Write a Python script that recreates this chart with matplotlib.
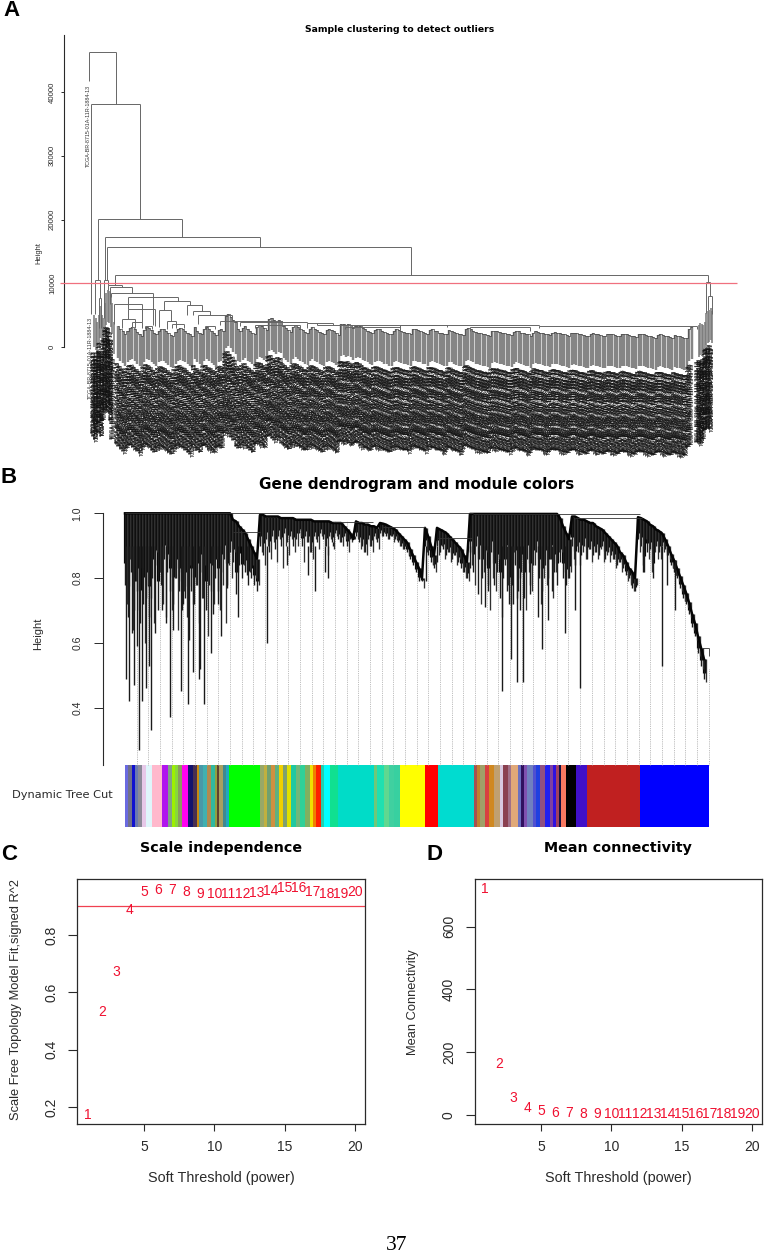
import matplotlib as mpl
import numpy as np

mpl.use("Agg")
import matplotlib.pyplot as plt

plt.rcParams["font.family"] = ["Liberation Sans", "DejaVu Sans"]

W, H = 768, 1254

# Panel A: sample tree. x is leaf position along the tree, y is Height
sample_ticks = [0, 10000, 20000, 30000, 40000]
sample_cut = 10000
merge_left = [89, 91, 97.5, 104.5, 106.5, 115, 705.5, 708, 94.5, 104, 99, 108, 110, 110.7, 128, 114, 128,
              164, 159, 167, 122, 187, 193, 198, 220, 240, 307, 317, 400, 539, 132, 145, 172, 205, 255, 345, 470]
merge_right = [115.5, 139.5, 182, 259.5, 411, 708, 709.5, 711.5, 100, 108, 101, 122, 132, 153, 178, 142, 155,
               190, 171, 176, 135, 202, 210, 232, 282, 307, 333, 539, 447, 697, 142, 152, 184, 215, 300, 400, 530]
merge_height = [46270, 38100, 20100, 17300, 15700, 11300, 10250, 8000, 10500, 10500, 7700, 9770, 9414, 8525, 7845,
                6800, 6015, 7165, 5860, 4030, 4445, 6540, 5600, 4970, 4030, 3920, 3770, 3550, 3450, 3350, 3900, 3300,
                3600, 3300, 3500, 3200, 3100]
merge_left_to = [41700, 5230, 10500, 10500, 10500, 9770, 5400, 5800, 5200, 4500, 3000, 9000, 6800, 7845, 6015,
                 3600, 4445, 5860, 3200, 2800, 3000, 5000, 4970, 3600, 3400, 3300, 3000, 3770, 3000, 3000, 3000, 2800,
                 3000, 2800, 3000, 2800, 2600]
merge_right_to = [38100, 20100, 17300, 15700, 11300, 10250, 8000, 5200, 7700, 9800, 3000, 9414, 8525, 3400, 7165,
                  3900, 3300, 6540, 4030, 3000, 3000, 5600, 4970, 4030, 3920, 3770, 3550, 3350, 3200, 2800, 3000, 2800,
                  3000, 2800, 2900, 2700, 2500]

leaf_heights = [
    3300, 2900, 2500, 2100, 2600, 3000, 3100, 2800, 2400, 2100, 1800, 2700, 3200, 3000, 2700,
    2300, 2000, 2600, 2900, 2800, 2500, 2200, 1900, 1700, 2400, 2900, 3000, 2800, 2600, 2300,
    2000, 1700, 3100, 2600, 2300, 2000, 2900, 3100, 2800, 2500, 2200, 1900, 2700, 2900, 2600,
    4900, 5200, 4800, 4300, 3900, 2900, 2600, 3000, 3300, 2900, 2600, 2300, 2000, 3200, 3500,
    3300, 3000, 2700, 4400, 4600, 4200, 3900, 4300, 4100, 3300, 3000, 2700, 2400, 3100, 3400,
    3200, 2900, 2700, 2400, 2200, 2800, 3100, 2900, 2700, 2400, 2200, 2000, 2700, 2900, 2700,
    2500, 2200, 1900, 3600, 3700, 3500, 3600, 3400, 3000, 3300, 3500, 3300, 3000, 2800, 2600,
    2400, 2200, 2700, 2900, 2800, 2600, 2400, 2300, 2100, 2000, 2600, 2800, 2700, 2500, 2400,
    2300, 2200, 2100, 2800, 2900, 2700, 2600, 2400, 2300, 2100, 2700, 2800, 2600, 2500, 2300,
    2200, 2100, 2000, 2700, 2600, 2400, 2200, 2100, 2000, 1900, 2900, 3000, 2800, 2600, 2400,
    2300, 2200, 2100, 2000, 1900, 1800, 2500, 2600, 2500, 2400, 2300, 2200, 2100, 2000, 1900,
    2400, 2600, 2500, 2300, 2200, 2100, 2000, 1800, 2300, 2500, 2400, 2300, 2200, 2100, 2000,
    1900, 2300, 2400, 2300, 2200, 2100, 2000, 1900, 1800, 2200, 2300, 2200, 2100, 2000, 1900,
    1800, 1700, 2100, 2200, 2100, 2000, 1900, 1800, 1700, 2000, 2100, 2000, 1900, 1800, 1700,
    2000, 2100, 2000, 1900, 1800, 1700, 1600, 2000, 2100, 2000, 1900, 1800, 1700, 1600, 1500,
    1900, 2000, 1900, 1800, 1700, 1600, 1500, 1900, 1800, 1700, 1600, 1500, 1400, 2800, 3100,
]
clump_x = [94, 95.5, 97, 98.5, 100, 101.5, 103, 104.5, 106, 107.5, 109, 110.5, 112, 113.5,
           698.5, 700, 701.5, 703, 704.5, 706, 707.5, 709, 710.5, 712]
clump_heights = [5000, 4500, 4000, 5000, 6500, 5000, 4500, 7000, 8500, 9000, 8800, 8200, 7000, 4000,
                 3500, 3800, 3600, 3400, 4000, 5400, 5600, 5800, 6200, 5600]
lone_x = [88.5, 90]
lone_heights = [41080, 4700]
sample_ids = ["TCGA-BR-8715-01A-11R-1884-13", "TCGA-BR-6452-01A-12R-1802-13", "TCGA-BR-7196-01A-11R-2055-13",
              "TCGA-BR-8366-01A-11R-2343-13", "TCGA-BR-4187-01A-01R-1131-13", "TCGA-BR-A4CR-01A-11R-A251-31",
              "TCGA-BR-6566-01A-11R-1884-13"]

# Panel B: gene tree, one dense column every few pixels plus the long single branches
gene_ticks = [0.4, 0.6, 0.8, 1.0]
mass_tops = [1.0] * 36 + [
    .98, .975, .96, .95, .94, .92, .90, .88, .86,
    .995, .995, .99, .99, .99, .99, .99, .985, .985, .985, .985, .985, .98, .98, .98, .98, .98, .98, .975, .975,
    .975, .975, .975, .975, .97, .97, .97, .97, .96, .95, .94, .92, .975, .97, .97, .965, .965, .96, .96, .955, .97,
    .968, .965, .96, .955, .95, .94, .93, .92, .91, .89, .87, .85, .83, .80,
    .955, .93, .90, .87,
    .955, .95, .945, .94, .93, .92, .91, .90, .89, .87, .85,
] + [.998] * 30 + [
    .985, .96, .94, .92,
    .99, .99, .985, .98, .98, .975, .97, .97, .96, .955, .95, .94, .93, .92, .91, .90, .88, .87, .85, .83, .82, .80,
    .988, .985, .98, .975, .965, .96, .95, .945,
    .938, .92, .90, .875, .855, .83, .805, .78, .755, .725, .69, .66, .62, .585, .55,
]
mass_bottoms = [
    .78, .68, .82, .70, .76, .66, .72, .74, .68, .80, .84, .70, .78, .86, .82, .76, .72, .80,
    .76, .70, .74, .68, .76, .72, .78, .82, .74, .70, .78, .84, .80, .76, .82, .86, .78, .88,
    .85, .75, .84, .80, .82, .78, .80, .78, .76,
    .90, .87, .92, .88, .93, .89, .93, .90, .94, .91, .93, .90, .92, .94, .90, .93, .91, .88, .93, .91,
    .94, .92, .90, .93, .91, .94, .92, .91, .93, .90, .92, .94, .93, .91, .90, .88, .92, .90, .93, .91, .94,
    .93, .93, .92, .93, .92, .91, .90, .89, .88, .86, .84, .82, .79, .79,
    .90, .87, .85, .83,
    .90, .88, .89, .87, .88, .86, .87, .85, .83, .82, .80,
    .88, .82, .90, .86, .80, .84, .76, .88, .78, .82, .74, .80, .86, .72, .78, .84, .76, .82, .74, .86,
    .78, .84, .88, .80, .76, .84, .80, .86, .82, .78,
    .85, .80, .78, .80,
    .90, .84, .88, .87, .90, .86, .89, .87, .88, .87, .90, .86, .88, .87, .86, .84, .85, .83, .81, .80, .77, .76,
    .92, .90, .82, .88, .89, .80, .90, .88,
    .90, .89, .87, .84, .82, .80, .77, .74, .72, .69, .65, .62, .57, .53, .49,
]
fringe_bottoms = [
    .72, .86, .64, .79, .70, .83, .60, .78, .74, .66, .88, .82, .72, .68, .86, .70, .80, .64,
    .82, .76, .68, .84, .72, .78, .66, .74, .84, .62, .76, .72, .86, .70, .78, .66, .84, .80,
    .88, .82, .90, .84, .86, .82, .84, .80, .78,
    .88, .84, .90, .86, .91, .85, .92, .83, .90, .87, .92, .88, .90, .93, .85, .91, .88, .86, .92, .89,
    .93, .90, .87, .92, .89, .93, .91, .90, .92, .88, .91, .93, .92, .89, .88, .87, .90, .88, .92, .89, .93,
    .94, .92, .93, .91, .92, .90, .89, .90, .87, .87, .85, .83, .80, .77,
    .88, .89, .84, .82,
    .87, .90, .86, .88, .85, .87, .84, .86, .82, .80, .79,
    .84, .78, .86, .72, .82, .88, .70, .80, .76, .86, .68, .84, .78, .72, .88, .74, .80, .86, .70, .82,
    .76, .84, .88, .72, .80, .78, .86, .74, .82, .88,
    .88, .82, .80, .82,
    .86, .90, .84, .88, .86, .89, .85, .88, .86, .89, .85, .87, .85, .86, .83, .85, .82, .84, .79, .78, .76, .78,
    .88, .84, .92, .86, .82, .88, .86, .86,
    .88, .87, .86, .83, .81, .79, .76, .73, .71, .68, .64, .61, .56, .52, .48,
]
spike_x = [126, 129, 131.7, 134, 136.7, 139.3, 141.7, 146, 148.7, 151, 155, 161.7, 166, 170, 173.3, 181, 183.3,
           187.7, 189, 192.7, 199, 200, 204.3, 210.7, 213.3, 218.3, 220.7, 227.3, 237.7, 246.7, 267.3, 287.3,
           307.7, 315, 325, 328, 332.7, 426, 437, 470, 478, 485, 488, 502, 507, 511, 513, 517, 520, 523, 530,
           538, 542, 548, 552, 565, 575, 580, 643, 662, 667, 675]
spike_bottoms = [.49, .42, .63, .47, .59, .27, .42, .46, .53, .33, .63, .70, .66, .37, .64, .45, .72, .41, .61,
                 .51, .49, .52, .41, .57, .69, .72, .62, .77, .68, .81, .60, .84, .81, .76, .82, .80, .91,
                 .79, .85, .83, .75, .71, .78, .45, .76, .55, .72, .48, .70, .48, .75, .68, .58, .67, .76,
                 .63, .70, .46, .82, .53, .78, .70]
guide_tops = [.99] * 9 + [.94, .88, .99, .985, .985, .98, .98, .98, .975, .975, .97, .93, .97, .94, .91, .85, .92,
                          .95, .92, .87, .99, .99, .99, .99, .99, .99, .99, .99, .94, .98, .97, .95, .90, .85, .80,
                          .97, .94, .86, .77, .65, .52]
gene_merge_left = [125, 473, 575, 383, 438, 333, 233, 701.7]
gene_merge_right = [473, 640, 642, 425, 472, 373, 260, 709]
gene_merge_height = [1.0, .997, .985, .957, .925, .974, .943, .583]

module_colors = [
    "#6a6ae0", "#70708a", "#1010d0", "#6a78b0", "#8a8a98", "#e6c8e8", "#dff6fb", "#ffb8cc", "#b014ee", "#80a088",
    "#9cf000", "#88d838", "#8a9a60", "#ff00f0", "#14146e", "#4a3050", "#c88a10", "#4898a8", "#40b0b0", "#b08a50",
    "#30b8a0", "#90a040", "#604030", "#a8a060", "#408890", "#20a8c0", "#00ff00", "#98a868", "#c0b040", "#70a070",
    "#d09040", "#60b080", "#f0d000", "#80a070", "#e0e000", "#20c8a0", "#70b878", "#30d098", "#80b060", "#f0e000",
    "#f08000", "#ff2000", "#20d0b0", "#00ffff", "#10e090", "#00dcc8", "#70c878", "#20e0b0", "#60d890", "#40d0a0",
    "#38d0a0", "#ffff00", "#ff0000", "#00dcd0", "#a85050", "#c08030", "#a0a068", "#d84040", "#d08820", "#c0a070",
    "#d8c8e0", "#8a4050", "#a07088", "#e0a878", "#6a70c0", "#301060", "#8050b0", "#7080c0", "#5050d0", "#2040e0",
    "#905080", "#2020f0", "#8040a0", "#3010e0", "#a04060", "#101040", "#f87860", "#000000", "#4010c8", "#c02020",
    "#0000ff",
]
module_widths = [
    3.3, 4, 2.3, 3.7, 3.3, 4.3, 5.7, 10, 6, 4,
    3.3, 3.3, 3.3, 6.7, 5, 4, 2, 4, 4, 3.3,
    4.3, 2.3, 2, 4, 3.3, 2.7, 31.3, 3.3, 3.3, 4.3,
    3.3, 4, 4.3, 4.3, 4, 5, 3.3, 5, 5, 3.3,
    3.3, 4.7, 2.7, 6, 8.3, 35.7, 3.3, 6.7, 5, 5,
    6, 25.7, 12.7, 35.7, 3.3, 3.3, 5, 3.3, 5.7, 5.3,
    3.3, 4.7, 3.3, 6.7, 3.3, 2.7, 3.3, 6, 3.3, 4,
    5, 5, 3.3, 2.7, 3, 2, 4.7, 10, 11, 53.3,
    69,
]

# Panels C and D: soft threshold scan
powers = list(range(1, 21))
scale_fit = [.172, .532, .672, .887, .949, .957, .957, .949, .944, .942,
             .944, .944, .945, .954, .962, .962, .95, .944, .944, .95]
mean_connectivity = [720, 163, 54, 20, 11, 5, 4, 3, 2, 1, 1, 1, 1, 1, 1, 1, 1, 1, 1, 1]
power_ticks = [5, 10, 15, 20]
fit_ticks = [0.2, 0.4, 0.6, 0.8]
connectivity_ticks = [0, 200, 400, 600]
fit_cut = 0.9

INK = "#2a2a2a"
RED = "#f01030"

fig = plt.figure(figsize=(W / 100, H / 100), dpi=100)


def panel_axes(left, top, right, bottom):
    ax = fig.add_axes([left / W, 1 - bottom / H, (right - left) / W, (bottom - top) / H])
    ax.patch.set_alpha(0)
    return ax


def put_text(x, y, text, **kwargs):
    kwargs.setdefault("ha", "center")
    kwargs.setdefault("va", "center")
    fig.text(x / W, 1 - y / H, text, **kwargs)


def tree_axis(ax, x_pos, low, high, ticks, labels, tick_len, pad, size):
    for name in ["top", "right", "bottom"]:
        ax.spines[name].set_visible(False)
    ax.spines["left"].set_position(("data", x_pos))
    ax.spines["left"].set_bounds(low, high)
    ax.spines["left"].set_color(INK)
    ax.spines["left"].set_linewidth(0.8)
    ax.set_xticks([])
    ax.set_yticks(ticks, labels)
    ax.tick_params(axis="y", length=tick_len, width=0.7, color=INK, pad=pad, labelsize=size,
                   labelcolor=INK, labelrotation=90)
    for label in ax.get_yticklabels():
        label.set_va("center")


# Panel A
ax_a = panel_axes(0, 35, W, 462)
ax_a.set_xlim(0, W)
ax_a.set_ylim(-18000, 48940)
tree_axis(ax_a, 63.5, 0, 48940, sample_ticks, [str(t) for t in sample_ticks], 2.5, 3, 5.6)

hang = 5000
label_gap = 500
leaf_x = 118 + 2.4 * np.arange(len(leaf_heights))
leaf_h = np.array(leaf_heights, dtype=float)
ax_a.vlines(leaf_x, leaf_h - hang, leaf_h, color="#858585", lw=1.75)
ax_a.step(leaf_x, leaf_h, where="mid", color="#444444", lw=0.5)
ax_a.vlines(clump_x, np.array(clump_heights) - hang, clump_heights, color="#777777", lw=1.1)

ax_a.hlines(merge_height, merge_left, merge_right, color="#666666", lw=0.7)
ax_a.vlines(merge_left, merge_left_to, merge_height, color="#666666", lw=0.7)
ax_a.vlines(merge_right, merge_right_to, merge_height, color="#666666", lw=0.7)
ax_a.hlines(sample_cut, 60, 737, color="#f0707f", lw=0.9, zorder=5)

# about three labels per drawn leaf, the real tree has twice as many samples as it shows room for
all_x = list(leaf_x) + clump_x
all_tops = list(leaf_h - hang - label_gap) + list(np.array(clump_heights) - hang - label_gap)
for i, (x, y) in enumerate(zip(all_x, all_tops)):
    for j, shift in enumerate((0, 0.8, 1.6)):
        ax_a.text(x + shift - 0.8, y, sample_ids[(i + j) % len(sample_ids)], rotation=90, ha="center", va="top",
                  fontsize=3.9, color="#111111", clip_on=False)
for x, y in zip(lone_x, lone_heights):
    ax_a.text(x, y, sample_ids[0], rotation=90, ha="center", va="top", fontsize=3.9, color="#333333")

put_text(39, 253, "Height", rotation=90, fontsize=5.4, color=INK)
put_text(400, 30, "Sample clustering to detect outliers", fontsize=6.7, fontweight="bold", family="DejaVu Sans")

# Panel B
ax_b = panel_axes(0, 505, W, 830)
ax_b.set_xlim(0, W)
ax_b.set_ylim(0.0225, 1.0256)
tree_axis(ax_b, 102.5, 0.2233, 1.0, gene_ticks, [f"{t:.1f}" for t in gene_ticks], 6.5, 8, 7.6)

guide_x = 136.7 + 11.67 * np.arange(len(guide_tops))
ax_b.vlines(guide_x, 0.2233, guide_tops, color="#a8a8a8", lw=0.6, linestyles=(0, (1, 1.2)))

mass_x = 125 + 3 * np.arange(len(mass_tops))
tops = np.array(mass_tops)
bottoms = np.array(mass_bottoms)
ax_b.vlines(mass_x, tops - 0.7 * (tops - bottoms), tops, color="#050505", lw=2.3)
ax_b.vlines(mass_x, bottoms, tops, color="#1a1a1a", lw=1.0)
ax_b.vlines(mass_x + 1.5, fringe_bottoms, tops, color="#303030", lw=0.95)
ax_b.plot(mass_x, tops, color="#050505", lw=1.8)

spike_tops = [min(0.9, mass_tops[int((x - 125) / 3)]) for x in spike_x]
ax_b.vlines(spike_x, spike_bottoms, spike_tops, color="#1a1a1a", lw=1.0)
ax_b.hlines(gene_merge_height, gene_merge_left, gene_merge_right, color="#333333", lw=0.6)
ax_b.vlines(709, 0.56, 0.583, color="#333333", lw=0.6)

module_left = 125 + np.concatenate([[0], np.cumsum(module_widths)[:-1]])
ax_b.bar(module_left, 0.1915, width=module_widths, bottom=0.0318, align="edge", color=module_colors, linewidth=0)

put_text(38, 634, "Height", rotation=90, fontsize=8, color=INK)
put_text(62, 795, "Dynamic Tree Cut", fontsize=8.2, color=INK, family="DejaVu Sans")
put_text(417, 485, "Gene dendrogram and module colors", fontsize=10.9, fontweight="bold", family="DejaVu Sans")


def scan_axes(box, values, ylim, yticks, ylabels):
    ax = panel_axes(*box)
    ax.set_xlim(0.25, 20.75)
    ax.set_ylim(*ylim)
    for spine in ax.spines.values():
        spine.set_color(INK)
        spine.set_linewidth(0.9)
    ax.set_xticks(power_ticks)
    ax.set_yticks(yticks, ylabels)
    ax.tick_params(axis="x", length=4.7, width=0.8, color=INK, pad=7, labelsize=10, labelcolor=INK)
    ax.tick_params(axis="y", length=6.5, width=0.8, color=INK, pad=7, labelsize=10, labelcolor=INK,
                   labelrotation=90)
    for label in ax.get_yticklabels():
        label.set_va("center")
    for p, v in zip(powers, values):
        ax.text(p, v, str(p), color=RED, fontsize=10, ha="center", va="center")
    return ax


# Panel C
ax_c = scan_axes((77.3, 879, 365.3, 1123.7), scale_fit, (0.142, 0.995), fit_ticks, [f"{t:.1f}" for t in fit_ticks])
ax_c.axhline(fit_cut, color="#f04050", lw=0.9)
put_text(16, 1000, "Scale Free Topology Model Fit,signed R^2", rotation=90, fontsize=9.3, color=INK)
put_text(221, 1178, "Soft Threshold (power)", fontsize=10.4, color=INK)
put_text(221, 848, "Scale independence", fontsize=10.3, fontweight="bold", family="DejaVu Sans")

# Panel D
ax_d = scan_axes((474.7, 879.3, 762.3, 1123.7), mean_connectivity, (-28.7, 751), connectivity_ticks,
                 [str(t) for t in connectivity_ticks])
put_text(413, 1002, "Mean Connectivity", rotation=90, fontsize=9.3, color=INK)
put_text(618, 1178, "Soft Threshold (power)", fontsize=10.4, color=INK)
put_text(618, 848, "Mean connectivity", fontsize=10.3, fontweight="bold", family="DejaVu Sans")

# Panel letters and page number
for letter, x, y in [("A", 11, 11), ("B", 9, 477.5), ("C", 9, 855), ("D", 434, 855)]:
    put_text(x, y, letter, fontsize=16, fontweight="bold")
put_text(397, 1245, "37", fontsize=15.5, family="Liberation Serif")

fig.savefig("out.png", dpi=100)
plt.close(fig)
